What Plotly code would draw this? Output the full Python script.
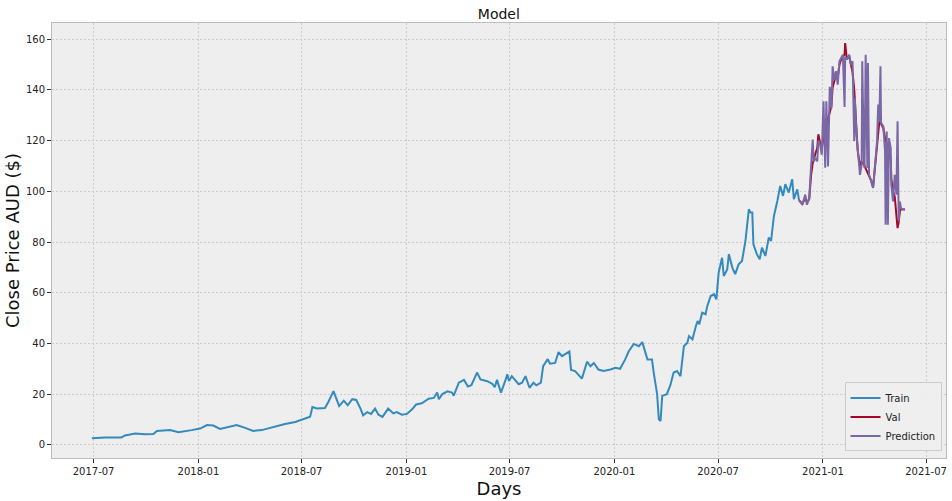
import plotly.graph_objects as go

# training period (daily closes)
train_dates = [
    "2017-06-28", "2017-07-21", "2017-08-19", "2017-08-25", "2017-09-12", "2017-09-29",
    "2017-10-14", "2017-10-20", "2017-11-12", "2017-11-27", "2017-12-20", "2018-01-04",
    "2018-01-16", "2018-01-27", "2018-02-08", "2018-02-23", "2018-03-09", "2018-03-24",
    "2018-04-07", "2018-04-22", "2018-05-13", "2018-06-02", "2018-06-20", "2018-07-10",
    "2018-07-16", "2018-07-20", "2018-07-28", "2018-08-11", "2018-08-17", "2018-08-26",
    "2018-08-30", "2018-09-05", "2018-09-13", "2018-09-20", "2018-09-28", "2018-10-05",
    "2018-10-13", "2018-10-17", "2018-10-24", "2018-10-31", "2018-11-07", "2018-11-13",
    "2018-11-20", "2018-11-30", "2018-12-09", "2018-12-15", "2018-12-24", "2019-01-02",
    "2019-01-11", "2019-01-18", "2019-01-28", "2019-02-09", "2019-02-18", "2019-02-24",
    "2019-02-27", "2019-03-05", "2019-03-14", "2019-03-22", "2019-03-25", "2019-04-03",
    "2019-04-12", "2019-04-19", "2019-04-25", "2019-05-05", "2019-05-11", "2019-05-23",
    "2019-06-01", "2019-06-05", "2019-06-09", "2019-06-16", "2019-06-24", "2019-06-27",
    "2019-06-30", "2019-07-05", "2019-07-17", "2019-07-23", "2019-07-29", "2019-08-05",
    "2019-08-12", "2019-08-17", "2019-08-25", "2019-08-29", "2019-09-06", "2019-09-10",
    "2019-09-19", "2019-09-25", "2019-10-01", "2019-10-07", "2019-10-14", "2019-10-17",
    "2019-10-24", "2019-11-05", "2019-11-14", "2019-11-20", "2019-11-26", "2019-12-04",
    "2019-12-13", "2019-12-25", "2020-01-03", "2020-01-11", "2020-01-20", "2020-01-26",
    "2020-02-04", "2020-02-13", "2020-02-19", "2020-02-28", "2020-03-07", "2020-03-10",
    "2020-03-16", "2020-03-19", "2020-03-22", "2020-03-25", "2020-04-02", "2020-04-08",
    "2020-04-14", "2020-04-20", "2020-04-26", "2020-05-02", "2020-05-08", "2020-05-11",
    "2020-05-17", "2020-05-23", "2020-05-26", "2020-05-29", "2020-06-03", "2020-06-09",
    "2020-06-12", "2020-06-18", "2020-06-24", "2020-06-28", "2020-07-02", "2020-07-08",
    "2020-07-11", "2020-07-17", "2020-07-20", "2020-07-26", "2020-07-31", "2020-08-06",
    "2020-08-12", "2020-08-18", "2020-08-24", "2020-08-27", "2020-08-30", "2020-09-01",
    "2020-09-07", "2020-09-12", "2020-09-16", "2020-09-22", "2020-09-28", "2020-10-02",
    "2020-10-07", "2020-10-13", "2020-10-18", "2020-10-23", "2020-10-27", "2020-11-02",
    "2020-11-08", "2020-11-11", "2020-11-17", "2020-11-20",
]
train_close = [
    2.6, 2.9, 2.9, 3.7, 4.5, 4.2,
    4.3, 5.5, 5.8, 5.0, 5.8, 6.4,
    7.8, 7.6, 6.3, 7.2, 7.8, 6.7,
    5.5, 5.8, 7.1, 8.2, 9.0, 10.5,
    11.1, 14.9, 14.3, 14.5, 16.9, 21.2,
    18.6, 15.3, 17.4, 15.6, 18.0, 17.7,
    14.0, 11.6, 12.9, 12.2, 14.3, 11.9,
    11.0, 14.3, 12.4, 12.9, 11.9, 12.2,
    14.0, 15.9, 16.4, 18.2, 18.5, 20.6,
    18.0, 20.0, 21.1, 20.6, 19.4, 24.5,
    25.6, 23.0, 23.5, 28.5, 25.8, 25.1,
    24.0, 22.7, 25.6, 20.6, 25.6, 27.8,
    25.2, 27.1, 23.9, 24.5, 27.1, 22.5,
    24.5, 23.5, 24.5, 31.0, 33.8, 32.0,
    32.3, 36.6, 35.0, 35.7, 36.8, 29.5,
    29.1, 26.1, 32.8, 31.0, 32.3, 29.7,
    29.1, 29.7, 30.4, 30.0, 33.7, 36.8,
    39.8, 38.9, 40.5, 33.7, 33.7, 28.5,
    20.0, 10.1, 9.4, 19.3, 20.0, 23.3,
    28.5, 29.1, 27.1, 38.9, 40.3, 42.9,
    41.6, 46.8, 48.8, 47.6, 52.1, 51.5,
    54.7, 58.7, 59.4, 57.4, 67.9, 73.8,
    66.6, 69.2, 75.2, 69.9, 67.3, 71.2,
    72.5, 80.4, 92.9, 91.6, 91.6, 79.1,
    75.2, 73.2, 77.8, 74.5, 81.8, 80.4,
    90.3, 96.2, 102.1, 98.2, 102.8, 99.5,
    104.8, 96.9, 100.8, 96.5,
]

# validation period: actual closes and model predictions
val_dates = [
    "2020-11-20", "2020-11-26", "2020-12-01", "2020-12-04", "2020-12-08", "2020-12-11",
    "2020-12-14", "2020-12-16", "2020-12-19", "2020-12-22", "2020-12-24", "2020-12-27",
    "2020-12-30", "2021-01-02", "2021-01-05", "2021-01-07", "2021-01-10", "2021-01-13",
    "2021-01-16", "2021-01-18", "2021-01-21", "2021-01-24", "2021-01-27", "2021-01-30",
    "2021-02-02", "2021-02-05", "2021-02-08", "2021-02-09", "2021-02-12", "2021-02-16",
    "2021-02-19", "2021-02-22", "2021-02-25", "2021-02-26", "2021-03-01", "2021-03-03",
    "2021-03-07", "2021-03-10", "2021-03-11", "2021-03-14", "2021-03-15", "2021-03-17",
    "2021-03-20", "2021-03-21", "2021-03-23", "2021-03-27", "2021-03-30", "2021-04-02",
    "2021-04-06", "2021-04-08", "2021-04-10", "2021-04-12", "2021-04-13", "2021-04-17",
    "2021-04-20", "2021-04-21", "2021-04-23", "2021-04-25", "2021-04-27", "2021-04-30",
    "2021-05-01", "2021-05-04", "2021-05-07", "2021-05-10", "2021-05-12", "2021-05-14",
    "2021-05-16", "2021-05-18", "2021-05-22", "2021-05-25",
]
val_close = [
    96.5, 95.0, 97.5, 95.5, 97.0, 106.0,
    111.0, 113.0, 115.0, 117.0, 122.5, 119.0,
    117.0, 121.0, 124.0, 127.0, 129.0, 131.0,
    134.0, 141.0, 144.0, 146.0, 145.0, 150.0,
    152.0, 153.0, 154.0, 158.5, 152.0, 153.5,
    150.0, 147.0, 140.0, 136.0, 125.0, 116.0,
    110.0, 112.0, 111.0, 111.0, 110.0, 109.0,
    108.0, 107.0, 106.0, 104.0, 101.5, 108.0,
    118.0, 122.0, 127.5, 127.0, 126.5, 125.0,
    121.0, 120.0, 119.0, 117.0, 116.0, 112.0,
    105.0, 100.0, 98.0, 90.0, 85.5, 88.0,
    92.0, 93.0, 93.0, 92.8,
]
predictions = [
    96.5, 94.7, 98.7, 94.7, 97.4, 109.8,
    120.4, 111.8, 113.1, 111.8, 120.0, 118.4,
    114.4, 135.5, 109.3, 135.5, 109.8, 141.2,
    132.7, 149.3, 144.0, 147.4, 142.1, 151.3,
    152.6, 153.9, 133.3, 153.0, 152.0, 153.9,
    150.0, 151.3, 119.8, 136.8, 122.3, 115.7,
    106.5, 110.5, 151.3, 111.8, 109.2, 153.9,
    109.2, 150.6, 106.5, 103.9, 101.3, 109.2,
    119.8, 134.2, 127.6, 149.3, 127.0, 125.6,
    115.7, 86.8, 123.6, 86.8, 121.0, 117.1,
    102.6, 96.0, 106.5, 98.7, 127.6, 88.1,
    96.0, 93.4, 92.8, 92.8,
]

fig = go.Figure()

fig.add_trace(go.Scatter(x=train_dates, y=train_close, mode='lines', name='Train',
                         line=dict(color='#348ABD', width=2)))
fig.add_trace(go.Scatter(x=val_dates, y=val_close, mode='lines', name='Val',
                         line=dict(color='#A60628', width=2)))
fig.add_trace(go.Scatter(x=val_dates, y=predictions, mode='lines', name='Prediction',
                         line=dict(color='#7A68A6', width=2)))

axis_style = dict(
    showgrid=True, gridcolor='#cccccc', gridwidth=1, griddash='2px,2px',
    zeroline=False, showline=True, linecolor='#bcbcbc', linewidth=1, mirror=True,
    ticks='outside', ticklen=4, tickcolor='#333333',
    tickfont=dict(family='DejaVu Sans', size=10, color='#222222'),
)

fig.update_layout(
    width=952, height=501,
    title=dict(text='Model', x=0.524, xanchor='center', y=0.982, yanchor='top',
               font=dict(family='DejaVu Sans', size=14, color='#111111')),
    paper_bgcolor='white',
    plot_bgcolor='#eeeeee',
    margin=dict(l=52, r=6, t=23, b=43),
    showlegend=True,
    legend=dict(x=0.995, y=0.015, xanchor='right', yanchor='bottom',
                bgcolor='rgba(238,238,238,0.9)', bordercolor='#cccccc', borderwidth=1,
                font=dict(family='DejaVu Sans', size=10, color='#222222'),
                itemwidth=30, tracegroupgap=0),
    xaxis=dict(axis_style, type='date', range=['2017-04-19', '2021-08-05'],
               tick0='2017-07-01', dtick='M6', tickformat='%Y-%m',
               title=dict(text='Days', standoff=6,
                          font=dict(family='DejaVu Sans', size=18, color='#111111'))),
    yaxis=dict(axis_style, range=[-5.2, 166.4], tick0=0, dtick=20,
               title=dict(text='Close Price AUD ($)', standoff=1,
                          font=dict(family='DejaVu Sans', size=18, color='#111111'))),
)

# drop the default page margin so the 952x501 figure sits flush in the window
fig.write_html("out.html", config={'displayModeBar': False},
               post_script="document.body.style.margin='0';")
